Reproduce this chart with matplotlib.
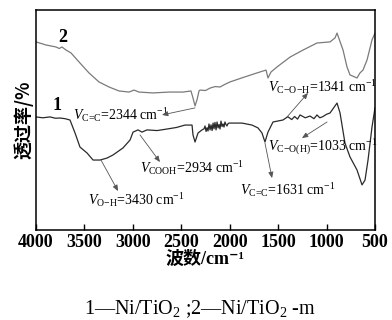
import matplotlib
matplotlib.use("Agg")
import matplotlib.pyplot as plt

plt.rcParams['mathtext.fontset'] = 'custom'
plt.rcParams['mathtext.rm'] = 'Liberation Serif'
plt.rcParams['mathtext.it'] = 'Liberation Serif:italic'
plt.rcParams['mathtext.bf'] = 'Liberation Serif:bold'

# Curve 2 (Ni/TiO2-m)
wn2 = [4000, 3897, 3794, 3760, 3732, 3690, 3639, 3556, 3453, 3350, 3246, 3143, 3040,
       2988, 2937, 2792, 2627, 2482, 2400, 2379, 2358, 2338, 2317, 2307, 2250, 2203,
       2150, 2100, 2050, 1997, 1850, 1718, 1625, 1605, 1574, 1512, 1377, 1243, 1099,
       964, 913, 892, 830, 789, 758, 686, 655, 624, 582, 531, 500]
t2 = [85.5, 84.1, 83.2, 82.5, 83.2, 81.8, 80.5, 76.4, 71.4, 67.3, 65.0, 63.2, 62.7,
      63.6, 62.7, 62.3, 62.7, 62.7, 63.2, 60.0, 56.4, 59.1, 63.2, 63.6, 63.4, 64.5,
      65.2, 65.0, 66.2, 67.3, 69.5, 71.4, 72.7, 69.1, 71.8, 74.1, 78.6, 81.8, 85.0,
      85.5, 87.3, 89.5, 81.8, 74.1, 70.5, 69.1, 71.4, 72.7, 77.3, 86.4, 89.5]

# Curve 1 (Ni/TiO2)
wn1 = [4000, 3930, 3855, 3800, 3752, 3700, 3649, 3597, 3546, 3473, 3411, 3339, 3267,
       3205, 3102, 3029, 2998, 2947, 2906, 2854, 2750, 2647, 2550, 2462, 2389, 2379,
       2358, 2327, 2286, 2265, 2255, 2244, 2234, 2224, 2214, 2203, 2193, 2182, 2172,
       2162, 2152, 2141, 2131, 2120, 2110, 2100, 2090, 2079, 2069, 2059, 2049, 2038,
       2028, 2017, 2007, 1976, 1873, 1770, 1708, 1667, 1636, 1605, 1553, 1450, 1400,
       1360, 1330, 1300, 1274, 1220, 1171, 1130, 1099, 1070, 1040, 1000, 964, 892,
       861, 810, 758, 686, 634, 603, 572, 531, 500]
t1 = [51.4, 51.0, 51.4, 50.8, 50.9, 50.6, 50.0, 44.1, 37.7, 35.0, 31.8, 31.8, 32.7,
      34.1, 37.3, 40.9, 44.5, 45.5, 44.5, 45.5, 45.2, 45.9, 46.6, 47.7, 47.7, 43.2,
      40.0, 44.1, 45.5, 46.0, 47.3, 44.8, 46.5, 45.0, 48.2, 45.5, 47.8, 45.2, 48.6,
      46.0, 48.9, 45.5, 49.1, 46.4, 48.0, 45.9, 49.5, 47.0, 48.2, 46.8, 49.1, 47.9,
      47.3, 48.4, 48.6, 48.6, 48.6, 47.7, 46.4, 44.1, 40.0, 44.5, 49.1, 50.0, 51.5,
      50.2, 51.6, 50.4, 52.3, 51.0, 51.8, 50.6, 52.3, 51.0, 51.5, 52.6, 53.2, 57.7,
      53.2, 39.5, 33.2, 27.3, 20.5, 22.7, 31.8, 46.8, 55.5]

xticks = [4000, 3500, 3000, 2500, 2000, 1500, 1000, 500]

fig = plt.figure(figsize=(3.92, 3.2), dpi=100)
ax = fig.add_axes([36/392, 1-230/320, (375-36)/392, 220/320])
ax.plot(wn2, t2, color='#7a7a7a', lw=0.9)
ax.plot(wn1, t1, color='#2a2a2a', lw=0.9)
ax.set_xlim(4000, 500)
ax.set_ylim(0, 100)
ax.set_xticks(xticks)
ax.set_xticklabels([str(v) for v in xticks], fontfamily='Liberation Serif',
                   fontweight='bold', fontsize=13)
ax.set_yticks([])
ax.tick_params(axis='x', direction='in', length=4, width=1, pad=3, top=False)
for s in ax.spines.values():
    s.set_linewidth(1.1)
    s.set_color('black')

ax.set_xlabel('波数/cm⁻¹', fontfamily=['Liberation Serif', 'Noto Sans CJK SC', 'DejaVu Sans'],
              fontweight='bold', fontsize=13, labelpad=0)
ax.set_ylabel('透过率/%', fontfamily=['Noto Sans CJK SC', 'DejaVu Sans'],
              fontweight='bold', fontsize=13, labelpad=2)

num_kw = dict(fontfamily='Liberation Serif', fontweight='bold', fontsize=13,
              ha='center', va='center')
ax.text(3783, 56.8, '1', **num_kw)
ax.text(3721, 87.7, '2', **num_kw)

ann_kw = dict(fontfamily='Liberation Serif', fontsize=10, va='center', ha='left')
arrow = dict(arrowstyle='-|>,head_length=0.35,head_width=0.15', color='#555555',
             lw=0.6, shrinkA=0, shrinkB=0)

anns = [
    (r'$V_{\mathrm{C\!=\!C}}$=2344 cm$^{-1}$', (3618, 52.3), (2358, 55.5), (2699, 52.3)),
    (r'$V_{\mathrm{COOH}}$=2934 cm$^{-1}$', (2926, 28.2), (2926, 43.2), (2720, 30.9)),
    (r'$V_{\mathrm{O\!-\!H}}$=3430 cm$^{-1}$', (3463, 13.6), (3329, 31.8), (3153, 17.7)),
    (r'$V_{\mathrm{C\!-\!O\!-\!H}}$=1341 cm$^{-1}$', (1605, 65.0), (1408, 51.4), (1192, 62.3)),
    (r'$V_{\mathrm{C\!-\!O(H)}}$=1033 cm$^{-1}$', (1605, 37.7), (995, 49.1), (1254, 41.8)),
    (r'$V_{\mathrm{C\!=\!C}}$=1631 cm$^{-1}$', (1894, 18.2), (1636, 39.5), (1563, 23.6)),
]
for txt, tpos, a0, a1 in anns:
    ax.text(tpos[0], tpos[1], txt, **ann_kw)
    ax.annotate('', xy=a1, xytext=a0, arrowprops=arrow)

fig.text(0.5 + 4/392, 1 - 309/320, r'1—Ni/TiO$_2$ ;2—Ni/TiO$_2$ -m',
         fontfamily='Liberation Serif', fontsize=14.5, ha='center', va='center')

fig.savefig('out.png', dpi=100)
